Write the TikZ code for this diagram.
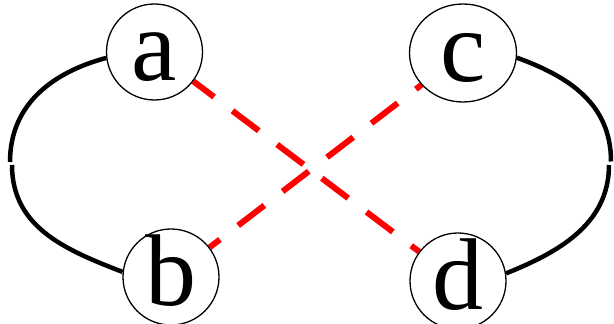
\documentclass[tikz,border=0pt]{standalone}
\usepackage{fontspec}
\setmainfont{Liberation Serif}
\usetikzlibrary{shapes.geometric,backgrounds}
\begin{document}
\begin{tikzpicture}[x=1pt,y=1pt,
  vtx/.style={draw=black,line width=1.3pt,fill=white,inner sep=0pt,
    font=\fontsize{102}{102}\selectfont,text height=62pt,text depth=4pt},
  rnd/.style={vtx,circle,minimum size=96pt},
  oval/.style={vtx,ellipse,minimum width=107pt,minimum height=98pt},
  blk/.style={line width=4.5pt,black},
  reddash/.style={line width=6pt,red,dash pattern=on 33pt off 23pt}]
\useasboundingbox (0,0) rectangle (614,324);
\node[rnd]  (a) at (154.5,272) {a};
\node[rnd]  (b) at (171,47) {b};
\node[oval] (c) at (463,271) {c};
\node[rnd]  (d) at (458,43) {d};
\coordinate (L1) at (10,162);
\coordinate (L2) at (12,159);
\coordinate (R1) at (611,162.5);
\coordinate (R2) at (609,159);
\begin{pgfonlayer}{background}
\draw[blk] (a.187) .. controls +(195:55) and +(90:58) .. (L1);
\draw[blk] (L2) .. controls +(-90:62) and +(159:62) .. (b.174);
\draw[blk] (c.-5) .. controls +(-20:55) and +(90:58) .. (R1);
\draw[blk] (R2) .. controls +(-90:60) and +(22:55) .. (d.9);
\draw[reddash,dash phase=7pt] (a) -- (d);
\draw[reddash,dash phase=20pt] (b) -- (c);
\end{pgfonlayer}
\end{tikzpicture}
\end{document}
